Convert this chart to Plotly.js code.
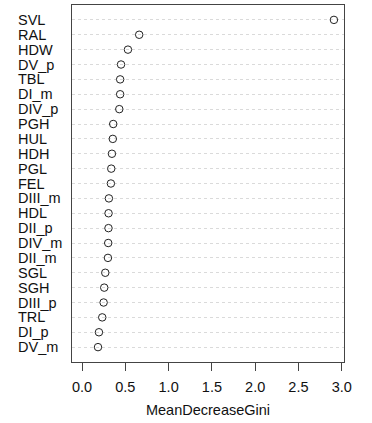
<!DOCTYPE html>
<html>
<head>
<meta charset="utf-8">
<script src="https://cdn.plot.ly/plotly-3.0.1.min.js"></script>
<style>html,body{margin:0;padding:0;background:#fff;}#chart{width:372px;height:423px;}</style>
</head>
<body>
<div id="chart"></div>
<script>
// Variables, listed top to bottom as in the chart
var variables = ["SVL","RAL","HDW","DV_p","TBL","DI_m","DIV_p","PGH","HUL","HDH","PGL","FEL",
                 "DIII_m","HDL","DII_p","DIV_m","DII_m","SGL","SGH","DIII_p","TRL","DI_p","DV_m"];
// Mean decrease in Gini importance
var gini = [2.91,0.66,0.53,0.45,0.44,0.44,0.43,0.36,0.355,0.345,0.337,0.333,
            0.31,0.306,0.305,0.302,0.299,0.268,0.256,0.249,0.233,0.195,0.184];
var xTicks = [0,0.5,1,1.5,2,2.5,3];
var xTickLabels = ["0.0","0.5","1.0","1.5","2.0","2.5","3.0"];
var xTitle = "MeanDecreaseGini";

var FONT = "Liberation Sans, Arial, sans-serif";
var n = variables.length;
var yPos = variables.map(function(v, i){ return n - i; });

var xmax = Math.max.apply(null, gini);
var pad = 0.04 * xmax;

var annotations = variables.map(function(v, i){
  return {
    x: -0.205, xref: "paper", xanchor: "left",
    y: yPos[i], yref: "y", yanchor: "middle",
    text: v, showarrow: false,
    font: {family: FONT, size: 14.5, color: "#111"}
  };
});

var trace = {
  type: "scatter", mode: "markers",
  x: gini, y: yPos,
  marker: {symbol: "circle-open", size: 7.5, color: "#222", line: {width: 1, color: "#222"}},
  hoverinfo: "skip"
};

var layout = {
  width: 372, height: 423,
  margin: {l: 72, r: 28, t: 5, b: 61},
  paper_bgcolor: "#fff", plot_bgcolor: "#fff",
  showlegend: false,
  xaxis: {
    range: [-pad, xmax + pad],
    tickvals: xTicks, ticktext: xTickLabels,
    ticks: "outside", ticklen: 8, tickwidth: 1, tickcolor: "#444",
    ticklabelstandoff: 4,
    showline: true, mirror: true, linecolor: "#444", linewidth: 1,
    showgrid: false, zeroline: false,
    tickfont: {family: FONT, size: 14.5, color: "#111"},
    title: {text: xTitle, font: {family: FONT, size: 14.5, color: "#111"}, standoff: 10},
    automargin: false
  },
  yaxis: {
    range: [0, n + 1],
    tickvals: yPos, showticklabels: false, ticks: "",
    showline: true, mirror: true, linecolor: "#444", linewidth: 1,
    showgrid: true, gridcolor: "#dadada", griddash: "dot", gridwidth: 1,
    zeroline: false, automargin: false
  },
  annotations: annotations
};

Plotly.newPlot("chart", [trace], layout, {staticPlot: true, displayModeBar: false});
</script>
</body>
</html>
